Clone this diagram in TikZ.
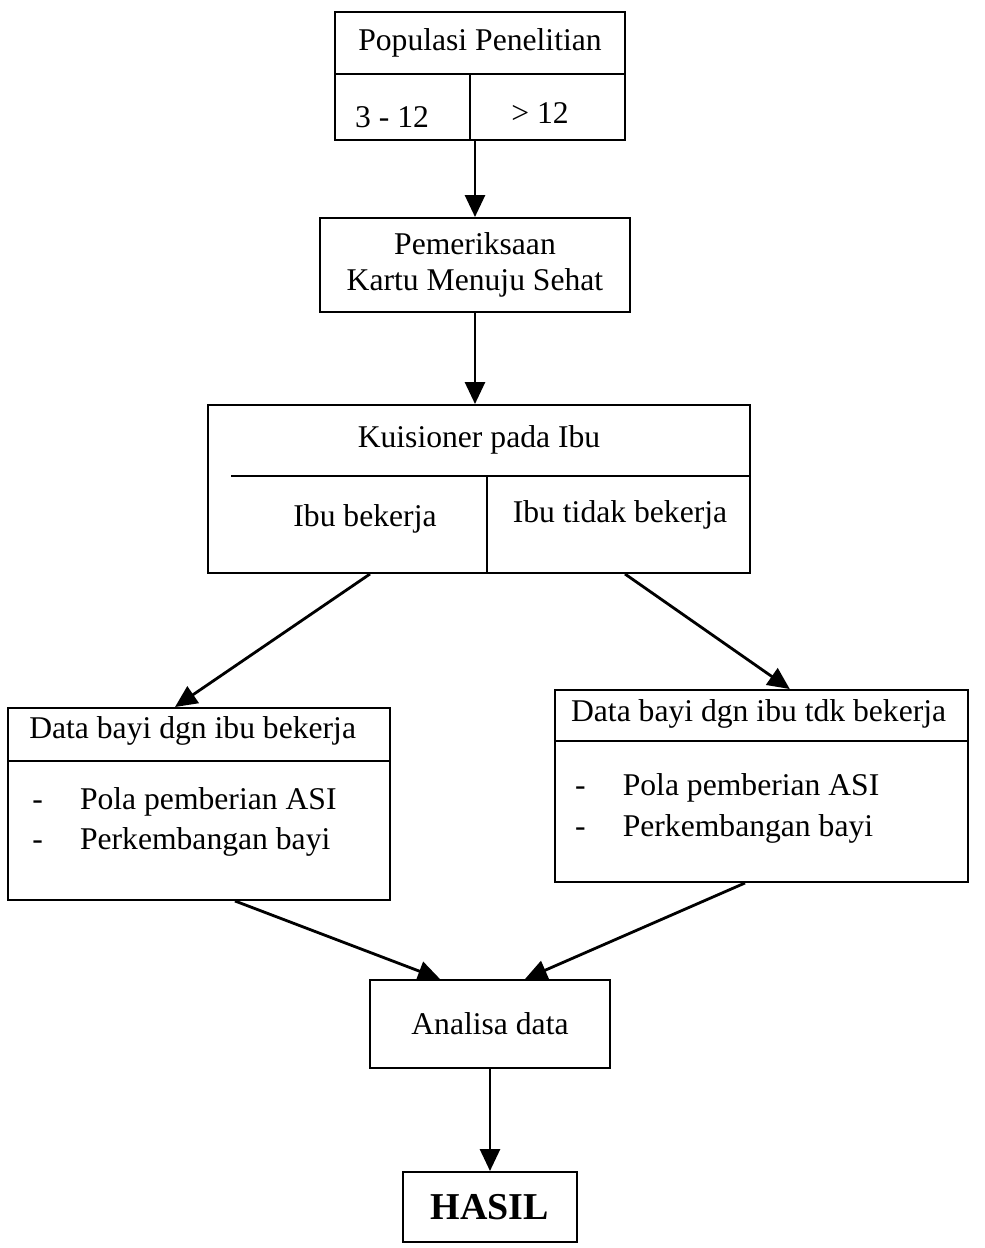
\documentclass[tikz,border=0pt]{standalone}
\usepackage{fontspec}
\setmainfont{Liberation Serif}
\usetikzlibrary{positioning,arrows.meta}

\begin{document}
\begin{tikzpicture}[
  >={Triangle[length=0.55cm,width=0.5cm]},
  on grid,
  every node/.style={font=\fontsize{22.5}{25.5}\selectfont},
  box/.style={draw,line width=1.4pt,inner sep=0pt},
  txt/.style={inner sep=0pt},
  flow/.style={->,line width=2pt}
]
  \useasboundingbox (-12,1.9) rectangle (12.625,-29.3);

  % boxes, top to bottom
  \node[box,minimum width=7.25cm,minimum height=3.2cm] (pop) at (0,0) {};
  \node[box,minimum width=7.75cm,minimum height=2.35cm,align=center,
        below=4.725cm of pop,xshift=-0.125cm] (pem) {Pemeriksaan\\Kartu Menuju Sehat};
  \node[box,minimum width=13.55cm,minimum height=4.2cm,below=5.6cm of pem,xshift=0.1cm] (kui) {};
  \node[box,minimum width=9.55cm,minimum height=4.8cm,below left=7.875cm and 7cm of kui] (dkerja) {};
  \node[box,minimum width=10.33cm,minimum height=4.8cm,below right=7.425cm and 7.06cm of kui] (dtdk) {};
  \node[box,minimum width=6cm,minimum height=2.2cm,below=13.375cm of kui,xshift=0.275cm] (anl) {Analisa data};
  \node[box,minimum width=4.33cm,minimum height=1.75cm,below=4.575cm of anl,
        font=\fontsize{27}{30}\selectfont\bfseries] (hasil) {HASIL};

  % populasi
  \node[txt] (popT) at ([yshift=-0.8cm]pop.north) {Populasi Penelitian};
  \node[txt] (popA) at ([xshift=-2.2cm,yshift=0.6cm]pop.south) {3 - 12};
  \node[txt] (popB) at ([xshift=1.5cm,yshift=0.7cm]pop.south) {> 12};
  \draw[line width=1.4pt] ([yshift=-1.575cm]pop.north west) -- ([yshift=-1.575cm]pop.north east)
    ([xshift=-0.25cm,yshift=-1.575cm]pop.north) -- ([xshift=-0.25cm]pop.south);

  % kuisioner
  \node[txt] (kuiT) at ([yshift=-0.9cm]kui.north) {Kuisioner pada Ibu};
  \node[txt] (kuiA) at ([xshift=-2.85cm,yshift=1.375cm]kui.south) {Ibu bekerja};
  \node[txt] (kuiB) at ([xshift=3.525cm,yshift=1.475cm]kui.south) {Ibu tidak bekerja};
  \draw[line width=1.4pt] ([xshift=0.6cm,yshift=-1.8cm]kui.north west) -- ([yshift=-1.8cm]kui.north east)
    ([xshift=0.2cm,yshift=-1.8cm]kui.north) -- ([xshift=0.2cm]kui.south);

  % data bayi
  \node[txt,anchor=west] (dkT) at ([xshift=0.55cm,yshift=-0.6cm]dkerja.north west) {Data bayi dgn ibu bekerja};
  \node[txt,anchor=west] (dkL) at ([xshift=0.625cm,yshift=-2.86cm]dkerja.north west)
    {\renewcommand\arraystretch{1.12}\begin{tabular}{@{}l@{\hspace{0.93cm}}l@{}}
      - & Pola pemberian ASI\\ - & Perkembangan bayi\end{tabular}};
  \draw[line width=1.4pt] ([yshift=-1.35cm]dkerja.north west) -- ([yshift=-1.35cm]dkerja.north east);

  \node[txt,anchor=west] (dtT) at ([xshift=0.425cm,yshift=-0.625cm]dtdk.north west) {Data bayi dgn ibu tdk bekerja};
  \node[txt,anchor=west] (dtL) at ([xshift=0.525cm,yshift=-2.975cm]dtdk.north west)
    {\renewcommand\arraystretch{1.12}\begin{tabular}{@{}l@{\hspace{0.93cm}}l@{}}
      - & Pola pemberian ASI\\ - & Perkembangan bayi\end{tabular}};
  \draw[line width=1.4pt] ([yshift=-1.3cm]dtdk.north west) -- ([yshift=-1.3cm]dtdk.north east);

  % arrows
  \draw[flow] (pem.north |- pop.south) -- (pem.north);
  \draw[flow] (pem.south) -- (pem.south |- kui.north);
  \draw[flow] ([xshift=-2.725cm]kui.south) -- ([xshift=-0.6cm]dkerja.north);
  \draw[flow] ([xshift=3.65cm]kui.south) -- ([xshift=0.71cm]dtdk.north);
  \draw[flow] ([xshift=0.9cm]dkerja.south) -- ([xshift=-1.25cm]anl.north);
  \draw[flow] ([xshift=-0.41cm]dtdk.south) -- ([xshift=0.875cm]anl.north);
  \draw[flow] (anl.south) -- (anl.south |- hasil.north);
\end{tikzpicture}
\end{document}
